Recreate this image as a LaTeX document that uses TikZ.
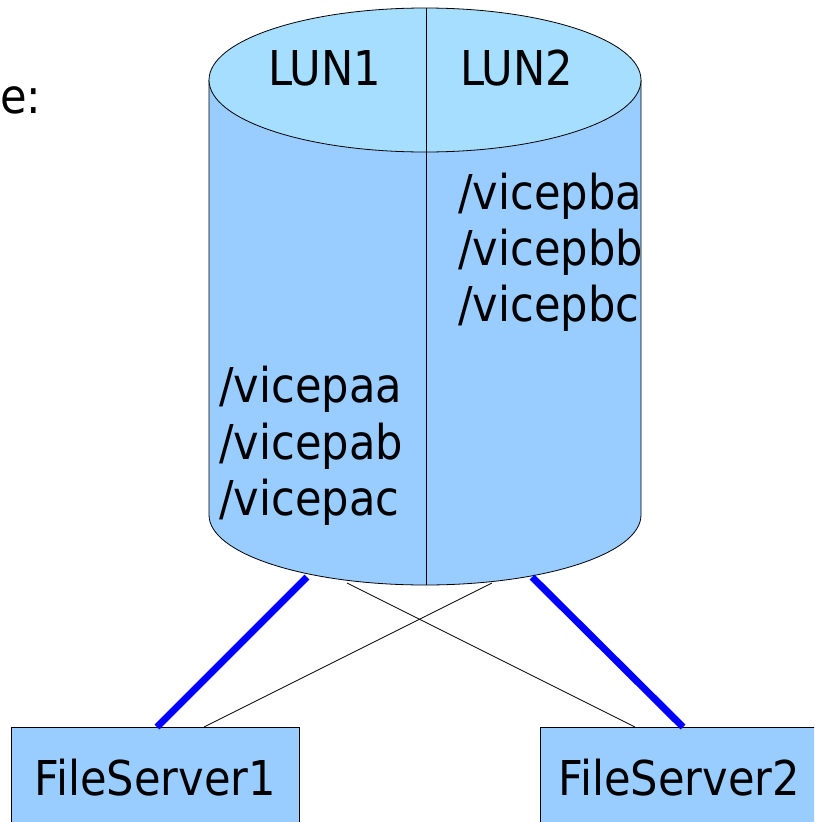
\documentclass[tikz,border=0pt]{standalone}
\usepackage{fontspec}
\setmainfont{DejaVu Sans Condensed}
\usetikzlibrary{calc}
\definecolor{topblue}{RGB}{166,222,255}
\definecolor{bodyblue}{RGB}{153,204,255}
\definecolor{linkblue}{RGB}{0,0,255}
\begin{document}
\begin{tikzpicture}[x=1pt,y=-1pt,
  lbl/.style={anchor=base west, inner sep=0pt, font=\fontsize{48}{56}\selectfont},
  srv/.style={draw=black, fill=bodyblue, minimum height=100pt, anchor=north west,
              inner sep=0pt, line width=0.8pt, font=\fontsize{48}{56}\selectfont},
  outline/.style={draw=black, line width=0.8pt},
  fat/.style={draw=linkblue, line width=7pt},
  thinlink/.style={draw=black, line width=0.7pt}]
\useasboundingbox (0,0) rectangle (814,822);
\clip (0,0) rectangle (814,822);

% cylinder body
\fill[bodyblue] (209,80) -- (209,515)
  arc[start angle=180, end angle=0, x radius=216, y radius=70] -- (641,80) -- cycle;
\draw[outline] (209,80) -- (209,515)
  arc[start angle=180, end angle=0, x radius=216, y radius=70] -- (641,80);
% top ellipse
\draw[outline, fill=topblue] (425,80) ellipse [x radius=216, y radius=72];
% divider
\coordinate (divtop) at (426,8);
\coordinate (divbot) at (426,585);
\draw[outline] (divtop) -- (divbot);

% labels
\node[lbl] (e) at (0,113) {e:};
\node[lbl] (lun1) at (268,85) {LUN1};
\node[lbl] (lun2) at (460,85) {LUN2};
\node[lbl] (pba) at (458,209) {/vicepba};
\node[lbl] (pbb) at (458,265) {/vicepbb};
\node[lbl] (pbc) at (458,321) {/vicepbc};
\node[lbl] (paa) at (219,402) {/vicepaa};
\node[lbl] (pab) at (219,459) {/vicepab};
\node[lbl] (pac) at (219,515) {/vicepac};

% servers
\node[srv, minimum width=288pt] (fs1) at (11,727) {FileServer1};
\node[srv, minimum width=278pt] (fs2) at (540,727) {FileServer2};

% connection points on the disk
\coordinate (d1) at (307,577);
\coordinate (d2) at (532,577);
\coordinate (d3) at (347,583);
\coordinate (d4) at (492,583);

\draw[thinlink] (d3) -- ($(fs2.north west)+(95,0)$);
\draw[thinlink] (d4) -- ($(fs1.north west)+(193,0)$);
\draw[fat] (d1) -- ($(fs1.north west)+(146,0)$);
\draw[fat] (d2) -- ($(fs2.north west)+(143,0)$);
\end{tikzpicture}
\end{document}
